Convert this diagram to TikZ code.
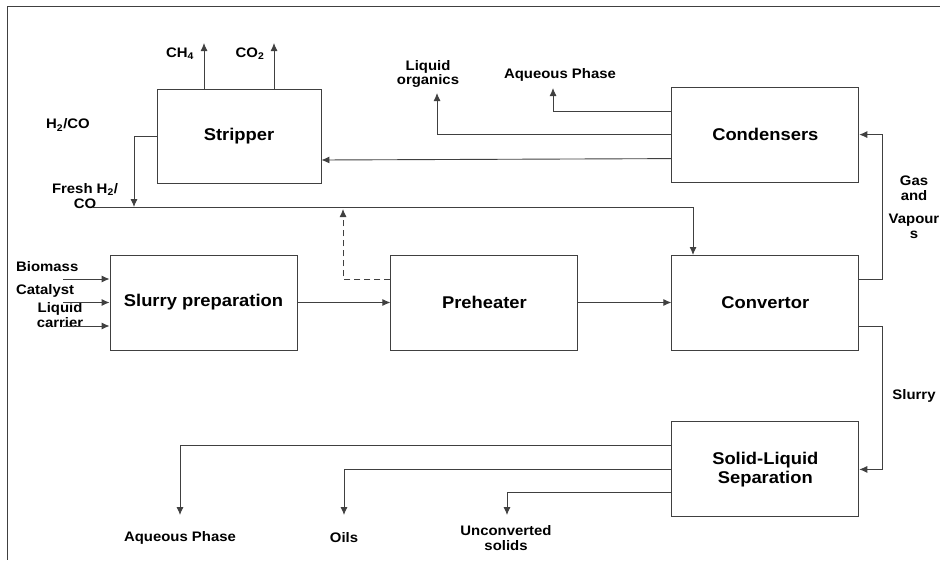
\documentclass[tikz,border=0pt]{standalone}
\usepackage{fontspec}
\setmainfont{Liberation Sans}[FakeStretch=1.08]
\usetikzlibrary{arrows.meta,positioning}
\tikzset{%
	block/.style    = {draw=black!75, rectangle, line width=0.9pt, minimum width=187pt, minimum height=95pt, inner sep=0pt, align=center, font=\fontsize{17}{19}\selectfont\bfseries},
	stream/.style   = {align=center, inner sep=0pt, font=\fontsize{13.8}{14.5}\selectfont\bfseries}, % stream names
	waypoint/.style = {coordinate},
	arrow/.style    = {draw=black!75, line width=0.9pt, -{Latex[length=8pt,width=7pt]}},
	pipe/.style     = {draw=black!75, line width=0.9pt},
}

\begin{document}
\begin{tikzpicture}[x=1pt, y=-1pt]
	\useasboundingbox (0,0) rectangle (940,560);
	\draw[pipe] (940,6) -- (7,6) -- (7,560);
	% main line
	\node[block] (slurry) at (203.5,302.5) {Slurry preparation};
	\node[block,right=93pt of slurry] (preheat) {Preheater};
	\node[block,right=93pt of preheat] (conv) {Convertor};
	\node[block,above=72pt of conv] (cond) {Condensers};
	\node[block,below=71pt of conv] (sep) {Solid-Liquid\\Separation};
	\node[block,minimum width=164pt,minimum height=94pt] (strip) at (239,136) {Stripper};
	% free ends
	\node[waypoint] (ch4) at (204,43) {};
	\node[waypoint] (co2) at (274,43) {};
	\node[waypoint] (tee) at (134,207) {};
	\node[waypoint] (fresh) at (93,207) {};
	\node[waypoint] (convin) at (693,255) {};
	\node[waypoint] (dash) at (343,209) {};
	\node[waypoint] (liqorg) at (437,93) {};
	\node[waypoint] (aqup) at (553,88) {};
	\node[waypoint] (aqdown) at (180,515) {};
	\node[waypoint] (oils) at (344,515) {};
	\node[waypoint] (unconv) at (507,515) {};
	\node[waypoint] (biomass) at (63,279) {};
	\node[waypoint] (catalyst) at (63,302.5) {};
	\node[waypoint] (carrier) at (63,326) {};
	% labels
	\node[stream] at (180,54) {CH\textsubscript{4}};
	\node[stream] at (250,54) {CO\textsubscript{2}};
	\node[stream] at (68,125) {H\textsubscript{2}/CO};
	\node[stream] at (85,196) {Fresh H\textsubscript{2}/\\CO};
	\node[stream] at (428,74) {Liquid\\organics};
	\node[stream] at (560,75) {Aqueous Phase};
	\node[stream] at (914,207) {Gas\\and\\[9pt]Vapour\\s};
	\node[stream] at (914,396) {Slurry};
	\node[stream,anchor=west] at (16,267) {Biomass};
	\node[stream,anchor=west] at (16,291) {Catalyst};
	\node[stream] at (60,315) {Liquid\\carrier};
	\node[stream] at (180,538) {Aqueous Phase};
	\node[stream] at (344,538) {Oils};
	\node[stream] at (506,538) {Unconverted\\solids};
	% connectors
	\draw[arrow] (biomass) -- (slurry.west |- biomass);
	\draw[arrow] (catalyst) -- (slurry.west);
	\draw[arrow] (carrier) -- (slurry.west |- carrier);
	\draw[arrow] (slurry) -- (preheat);
	\draw[arrow] (preheat) -- (conv);
	\draw[arrow] (strip.north -| ch4) -- (ch4);
	\draw[arrow] (strip.north -| co2) -- (co2);
	\draw[arrow] (strip.west) -| (tee);
	\draw[arrow] (fresh) -| (convin);
	\draw[arrow,dash pattern=on 6pt off 4pt] ([yshift=23.5pt]preheat.west) -| (dash);
	\draw[arrow] ([yshift=23.5pt]conv.east) -- ++(23,0) |- (cond.east);
	\draw[arrow] ([yshift=-23.5pt]conv.east) -- ++(23,0) |- (sep.east);
	\draw[arrow] ([yshift=-24pt]cond.west) -- ([yshift=-24pt]strip.east);
	\draw[arrow] (cond.west) -| (liqorg);
	\draw[arrow] ([yshift=23pt]cond.west) -| (aqup);
	\draw[arrow] ([yshift=23.5pt]sep.west) -| (aqdown);
	\draw[arrow] (sep.west) -| (oils);
	\draw[arrow] ([yshift=-23.5pt]sep.west) -| (unconv);
\end{tikzpicture}
\end{document}
